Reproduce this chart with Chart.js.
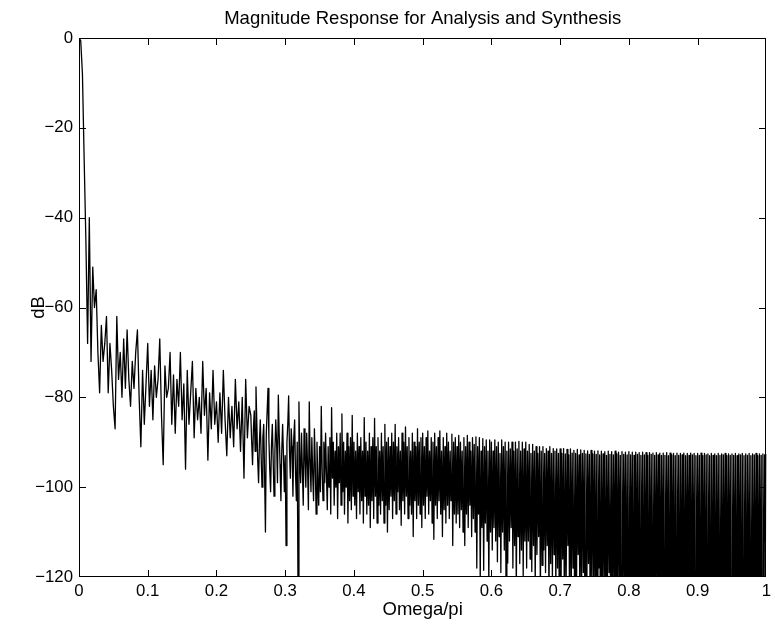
<!DOCTYPE html>
<html>
<head>
<meta charset="utf-8">
<script src="https://cdn.jsdelivr.net/npm/chart.js@4.4.1/dist/chart.umd.min.js"></script>
<style>
html,body{margin:0;padding:0;background:#fff;overflow:hidden;}
#wrap{width:775px;height:634px;}
</style>
</head>
<body>
<div id="wrap"><canvas id="c" width="775" height="634"></canvas></div>
<script>
// ---- data ----
const titleText = 'Magnitude Response for Analysis and Synthesis';
const xLabel = 'Omega/pi';
const yLabel = 'dB';
const xTicks = [0, 0.1, 0.2, 0.3, 0.4, 0.5, 0.6, 0.7, 0.8, 0.9, 1];
const yTicks = [0, -20, -40, -60, -80, -100, -120];

// sampling grid of Omega/pi: coarse below 0.25, fine from 0.25 to 1
const coarseStep = 0.0025;
const fineStart = 0.25;
const fineStep = 0.00125;

// magnitude in dB, coarse part (0 .. 0.2475)
const dB_000_010 = [0, -0.6, -8, -27, -45, -68, -40, -72, -51, -60, -56, -70, -79, -64, -72, -68, -62, -79, -68, -74,
  -82, -87, -62, -76, -70, -80, -67, -78, -65, -76, -82, -72, -78, -70, -65, -80, -91, -74, -86, -77];
const dB_010_020 = [-68, -82, -74, -85, -73, -80, -76, -67, -84, -95, -73, -80, -78, -70, -86, -75, -88, -76, -82, -70,
  -85, -77, -96, -74, -86, -79, -72, -89, -78, -85, -80, -88, -72, -84, -78, -94, -79, -87, -74, -86];
const dB_020_025 = [-81, -90, -79, -88, -74, -85, -93, -80, -89, -82, -91, -76, -87, -81, -92, -80, -98, -76, -89, -82];

// magnitude in dB, fine part (0.25 .. 1)
const dB_025_030 = [-84, -90, -95, -87, -83, -92, -77.7, -86, -94, -99, -90, -85, -93, -100, -89, -86, -97, -110, -88, -83,
  -78, -89, -96, -101, -91, -86, -94, -102, -92, -85, -90, -99, -79.5, -88, -95, -103, -92, -86, -93, -101];
const dB_030_035 = [-93, -113, -90, -86, -79.7, -92, -98, -87, -91, -102, -89, -85, -97, -103, -90, -126, -81, -94, -99, -88,
  -96, -104, -87, -93, -100, -88, -95, -105, -81, -94, -101, -89, -97, -103, -87, -95, -106, -90, -99, -104];
const dB_035_040 = [-91, -101, -82, -96, -103, -90, -99, -88, -97, -105, -91, -100, -89, -106, -82.3, -98, -90, -104, -92, -100,
  -88, -107, -91, -99, -88, -104, -83.7, -101, -90, -106, -92, -100, -88, -108, -91, -103, -89, -105, -84, -102];
const dB_040_045 = [-90, -104, -92, -107, -88, -101, -91, -106, -89, -103, -92, -108, -84.5, -102, -90, -106, -92, -104, -88, -109,
  -91, -103, -89, -107, -84.7, -102, -91, -108, -89, -104, -92, -106, -88, -103, -91, -108, -86, -104, -90, -110];
const dB_045_050 = [-89, -105, -91, -102, -88, -107, -90, -103, -86, -106, -91, -101, -89, -105, -92, -108.5, -88, -103, -90, -106,
  -86.6, -102, -91, -107, -89, -104, -92, -106, -88, -111, -90, -103, -91, -107, -87, -104, -90, -106, -89, -109];
const dB_050_055 = [-88, -104, -91, -107, -89, -102, -87.5, -106, -92, -103, -89, -108, -90, -111.6, -88, -104, -91, -107, -89, -103,
  -87.5, -106, -92, -111, -89, -105, -91, -108, -88, -104, -90, -107, -92, -103, -88.2, -113, -90, -106, -89, -108];
const dB_055_060 = [-91, -106, -88.5, -109, -90, -105, -92, -110, -89, -113, -91, -106, -88.5, -109, -90, -104, -92, -111, -89, -107,
  -90.5, -110, -88.8, -118, -91, -106, -89, -121, -92, -109, -89.2, -118.5, -91, -108, -89.5, -112, -92, -122, -89.5, -110];
const dB_060_065 = [-90, -114, -92, -109, -89.5, -112, -91, -116.6, -90, -111, -92.5, -119, -89.5, -110, -91, -114, -90, -121, -92, -116.9,
  -90, -112, -91.5, -109, -90, -118, -92, -113, -90, -123, -91.5, -111, -89.8, -117, -92, -114, -90, -120, -91.5, -112];
const dB_065_070 = [-90, -118, -92, -112, -90.5, -116, -92.5, -118.8, -90.5, -113, -92, -122, -91, -115, -92.5, -111, -91, -124, -92, -117.4,
  -91, -114, -92.5, -119, -91.4, -113, -92, -126, -91, -117, -92.5, -121, -91.4, -115, -92, -123, -91.5, -118, -92.5, -127];
const dB_070_075 = [-91.5, -124, -92.5, -116, -91.4, -130, -92.6, -121, -91.6, -113, -92.8, -128, -91.5, -122, -92.4, -118, -91.8, -134, -92.5, -125,
  -91.6, -115, -92.8, -129, -91.7, -122, -92.5, -119, -91.8, -137, -92.6, -126, -91.9, -117, -92.7, -131, -91.8, -123, -92.6, -120];
const dB_075_080 = [-92, -133, -92.7, -124, -91.9, -118, -92.8, -140, -92, -127, -92.6, -121, -92.1, -135, -92.9, -126, -92, -119, -92.7, -142,
  -92.1, -129, -92.8, -123, -92, -137, -92.6, -128, -92.2, -122, -92.9, -145, -92.1, -130, -92.7, -124, -92.2, -139, -92.8, -127];
const dB_080_085 = [-92.1, -134, -92.8, -125, -92.2, -148, -92.9, -131, -92.2, -126, -92.7, -140, -92.3, -129, -92.9, -124, -92.2, -143, -92.8, -132,
  -92.3, -127, -92.9, -150, -92.3, -133, -92.7, -126, -92.4, -141, -92.9, -130, -92.3, -125, -92.8, -146, -92.4, -134, -92.9, -128];
const dB_085_090 = [-92.4, -138, -92.9, -131, -92.3, -126, -93, -152, -92.4, -135, -92.8, -129, -92.5, -144, -93, -132, -92.4, -127, -92.9, -149,
  -92.5, -136, -92.8, -130, -92.4, -145, -93, -133, -92.5, -128, -92.9, -155, -92.4, -137, -92.8, -131, -92.5, -147, -93, -134];
const dB_090_095 = [-92.5, -129, -92.9, -151, -92.4, -138, -93, -132, -92.5, -146, -92.8, -135, -92.6, -130, -93, -158, -92.5, -139, -92.9, -133,
  -92.6, -148, -93, -136, -92.5, -131, -92.9, -153, -92.6, -140, -92.8, -134, -92.5, -149, -93, -137, -92.6, -132, -92.9, -156];
const dB_095_100 = [-92.6, -141, -92.9, -135, -92.5, -150, -93, -138, -92.6, -133, -92.8, -160, -92.5, -142, -93, -136, -92.6, -151, -92.9, -139,
  -92.5, -134, -93, -157, -92.6, -143, -92.8, -137, -92.5, -152, -93, -140, -92.6, -135, -92.9, -162, -92.6, -144, -92.8, -112, -92.6];

const coarseDB = [].concat(dB_000_010, dB_010_020, dB_020_025);
const fineDB = [].concat(dB_025_030, dB_030_035, dB_035_040, dB_040_045, dB_045_050, dB_050_055,
  dB_055_060, dB_060_065, dB_065_070, dB_070_075, dB_075_080, dB_080_085, dB_085_090, dB_090_095, dB_095_100);

const omega = coarseDB.map((_, i) => i * coarseStep)
  .concat(fineDB.map((_, i) => fineStart + i * fineStep));
const magnitudeDB = coarseDB.concat(fineDB);

// ---- chart ----
const FONT = "'Liberation Sans', Arial, Helvetica, sans-serif";
const points = omega.map((w, i) => ({x: w, y: magnitudeDB[i]}));

const framePlugin = {
  id: 'frame',
  afterDatasetsDraw(chart) {
    const {ctx, chartArea: a, scales: {x, y}} = chart;
    const L = Math.round(a.left), R = Math.round(a.right);
    const T = Math.round(a.top), B = Math.round(a.bottom);
    const tl = 7;
    ctx.save();
    ctx.fillStyle = '#000';
    // box
    ctx.fillRect(L, T, R - L, 1);
    ctx.fillRect(L, B - 1, R - L, 1);
    ctx.fillRect(L, T, 1, B - T);
    ctx.fillRect(R - 1, T, 1, B - T);
    // inward ticks on all four sides
    xTicks.forEach(v => {
      const px = Math.min(R - 1, Math.round(x.getPixelForValue(v)));
      ctx.fillRect(px, B - tl, 1, tl);
      ctx.fillRect(px, T, 1, tl);
    });
    yTicks.forEach(v => {
      const py = Math.min(B - 1, Math.round(y.getPixelForValue(v)));
      ctx.fillRect(L, py, tl, 1);
      ctx.fillRect(R - tl, py, tl, 1);
    });
    ctx.restore();
  }
};

new Chart(document.getElementById('c'), {
  type: 'line',
  data: {
    datasets: [{
      data: points,
      borderColor: '#000',
      borderWidth: 1.3,
      pointRadius: 0,
      fill: false,
      tension: 0,
      borderJoinStyle: 'round'
    }]
  },
  options: {
    responsive: false,
    animation: false,
    devicePixelRatio: 1,
    layout: {padding: {left: 0, right: 8, top: 0, bottom: 0}},
    plugins: {
      legend: {display: false},
      tooltip: {enabled: false},
      title: {
        display: true,
        text: titleText,
        color: '#000',
        fullSize: false,
        font: {family: FONT, size: 18.5, weight: 'normal'},
        padding: {top: 7.5, bottom: 8.3}
      }
    },
    scales: {
      x: {
        type: 'linear',
        min: 0, max: 1,
        afterBuildTicks: s => { s.ticks = xTicks.map(v => ({value: v})); },
        afterFit: s => { s.height = 57; },
        grid: {display: false, drawTicks: false},
        border: {display: false},
        ticks: {
          color: '#000', padding: 4, maxRotation: 0, autoSkip: false,
          font: {family: FONT, size: 16.8},
          callback: v => String(Math.round(v * 10) / 10)
        },
        title: {display: true, text: xLabel, color: '#000',
          font: {family: FONT, size: 18.5}, padding: {top: 0, bottom: 13.4}}
      },
      y: {
        type: 'linear',
        min: -120, max: 0,
        afterBuildTicks: s => { s.ticks = yTicks.map(v => ({value: v})); },
        afterFit: s => { s.width = 79; },
        grid: {display: false, drawTicks: false},
        border: {display: false},
        ticks: {
          color: '#000', padding: 6, autoSkip: false,
          font: {family: FONT, size: 16.8},
          callback: v => v < 0 ? '\u2212' + Math.abs(v) : String(v)
        },
        title: {display: true, text: yLabel, color: '#000',
          font: {family: FONT, size: 18.5}, padding: {top: 28, bottom: 0}}
      }
    }
  },
  plugins: [framePlugin]
});
</script>
</body>
</html>
